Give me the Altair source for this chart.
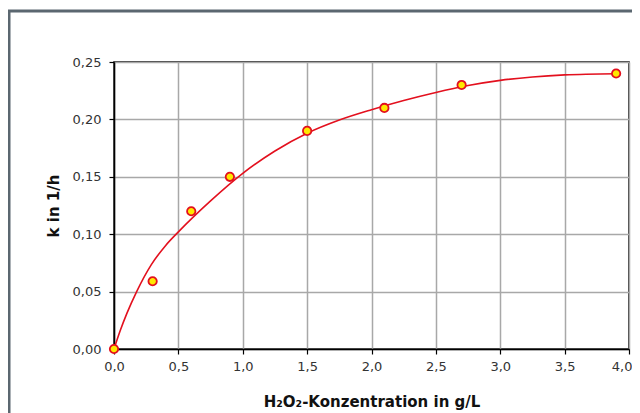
import altair as alt
import pandas as pd

# measured points
conc = [0.0, 0.3, 0.6, 0.9, 1.5, 2.1, 2.7, 3.9]
k_vals = [0.0, 0.059, 0.12, 0.15, 0.19, 0.21, 0.23, 0.24]

# fitted curve
curve_x = [0.0, 0.05, 0.1, 0.176, 0.29, 0.4, 0.5, 0.75, 1.0, 1.25, 1.5, 1.75, 2.0, 2.25, 2.5, 2.75, 3.0, 3.25, 3.5, 3.9]
curve_y = [0.0, 0.0165, 0.031, 0.05, 0.0735, 0.09, 0.102, 0.129, 0.153, 0.1725, 0.188, 0.1995, 0.2085, 0.2165, 0.2235, 0.2295, 0.234, 0.237, 0.2388, 0.2398]

x_ticks = [0.0, 0.5, 1.0, 1.5, 2.0, 2.5, 3.0, 3.5, 4.0]
y_grid = [0.0, 0.025, 0.05, 0.075, 0.10, 0.125, 0.15, 0.175, 0.20, 0.225, 0.25]

pts = pd.DataFrame({"x": conc, "y": k_vals})
crv = pd.DataFrame({"x": curve_x, "y": curve_y})

FONT = "DejaVu Sans"
W, H = 515, 287

xscale = alt.Scale(domain=[0, 4], nice=False, zero=False, padding=0)
yscale = alt.Scale(domain=[0, 0.25], nice=False, zero=False, padding=0)

major = "round(datum.value*1000) % 50 == 0"

xaxis = alt.Axis(
    values=x_ticks, title="H₂O₂-Konzentration in g/L",
    labelExpr="replace(format(datum.value, '.1f'), '.', ',')",
    labelFlush=False, labelOverlap=False,
    labelAlign={"condition": {"test": "datum.value >= 4", "value": "right"}, "value": "center"},
    labelOffset={"condition": {"test": "datum.value >= 4", "value": 3}, "value": 0},
    grid=True, gridColor="#a8a8a8", gridWidth=1.5,
    domainColor="black", domainWidth=1.5,
    tickColor="black", tickSize=5, tickWidth=1.2,
    labelFont=FONT, labelFontSize=13, labelColor="#333333", labelPadding=6,
    titleFont=FONT, titleFontSize=15, titleFontWeight="bold", titleColor="#111111",
    titlePadding=21,
)
yaxis = alt.Axis(
    values=y_grid, title="k in 1/h",
    labelExpr=f"{major} ? replace(format(datum.value, '.2f'), '.', ',') : ''",
    labelFlush=False, labelOverlap=False,
    tickOpacity={"condition": {"test": major, "value": 1}, "value": 0},
    grid=True, gridColor="#a8a8a8", gridWidth=1.5,
    domainColor="black", domainWidth=1.5,
    tickColor="black", tickSize=5, tickWidth=1.2,
    labelFont=FONT, labelFontSize=13, labelColor="#333333", labelPadding=8,
    titleFont=FONT, titleFontSize=15, titleFontWeight="bold", titleColor="#111111",
    titlePadding=11,
)

frame = alt.Chart(pd.DataFrame({"a": [0]})).mark_rect(
    filled=False, stroke="#5b6770", strokeWidth=3, clip=False
).encode(
    x=alt.value(-105), y=alt.value(-51), x2=alt.value(W + 200), y2=alt.value(H + 200)
)

line = alt.Chart(crv).mark_line(color="#e3101e", strokeWidth=1.6, interpolate="monotone").encode(
    x=alt.X("x:Q", scale=xscale, axis=xaxis),
    y=alt.Y("y:Q", scale=yscale, axis=yaxis),
)

points = alt.Chart(pts).mark_point(
    filled=True, fill="#ffe800", stroke="#e3101e", strokeWidth=1.8, size=70, opacity=1, shape="circle"
).encode(
    x=alt.X("x:Q", scale=xscale),
    y=alt.Y("y:Q", scale=yscale),
)

chart = alt.layer(frame, line, points).properties(
    width=W, height=H,
    autosize=alt.AutoSizeParams(type="none"),
    padding={"left": 106, "top": 54, "right": 3, "bottom": 70},
    background="white",
).configure_view(stroke="black", strokeWidth=1.5)

chart.save("out.html", embed_options={"renderer": "svg", "actions": False})
